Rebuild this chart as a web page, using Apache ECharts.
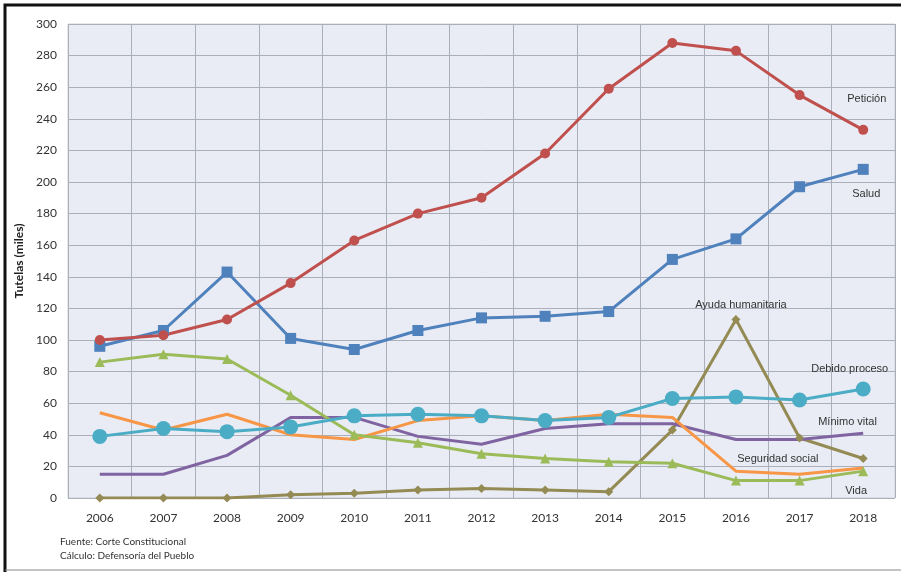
<!DOCTYPE html>
<html>
<head>
<meta charset="utf-8">
<script src="https://cdn.jsdelivr.net/npm/echarts@6/dist/echarts.min.js"></script>
<style>
  html, body { margin: 0; padding: 0; background: #fff; }
  #chart { width: 901px; height: 573px; }
</style>
</head>
<body>
<div id="chart"></div>
<script>
// años
var years = ['2006', '2007', '2008', '2009', '2010', '2011', '2012', '2013', '2014', '2015', '2016', '2017', '2018']

// tutelas por derecho (miles)
var peticion = [100, 103, 113, 136, 163, 180, 190, 218, 259, 288, 283, 255, 233]
var salud = [96, 106, 143, 101, 94, 106, 114, 115, 118, 151, 164, 197, 208]
var debidoProceso = [39, 44, 42, 45, 52, 53, 52, 49, 51, 63, 64, 62, 69]
var minimoVital = [15, 15, 27, 51, 51, 39, 34, 44, 47, 47, 37, 37, 41]
var seguridadSocial = [54, 43, 53, 40, 37, 49, 52, 49, 53, 51, 17, 15, 19]
var vida = [86, 91, 88, 65, 40, 35, 28, 25, 23, 22, 11, 11, 17]
var ayudaHumanitaria = [0, 0, 0, 2, 3, 5, 6, 5, 4, 43, 113, 38, 25]

var chart = echarts.init(document.getElementById('chart'))

// etiqueta al final de cada linea
function endLbl(dx, dy) {
  return {
    show: true,
    formatter: '{a}',
    distance: 0,
    offset: [dx, dy],
    color: '#333',
    fontSize: 11,
    fontFamily: 'Liberation Sans'
  }
}

function serie(name, data, color, symbol, size, lbl) {
  return {
    name: name,
    type: 'line',
    data: data,
    symbol: symbol,
    symbolSize: size,
    showSymbol: symbol !== 'none',
    lineStyle: { color: color, width: 3 },
    itemStyle: { color: color },
    endLabel: lbl,
    z: 3
  }
}

chart.setOption({
  animation: false,
  grid: {
    left: 68,
    right: 6,
    top: 24,
    bottom: 75,
    show: true,
    backgroundColor: '#E9ECF4',
    borderColor: '#D0D3DA',
    borderWidth: 1
  },
  xAxis: {
    type: 'category',
    data: years,
    boundaryGap: true,
    axisLine: { show: false },
    axisTick: { show: false },
    axisLabel: { color: '#333', fontSize: 12, fontFamily: 'Lato', margin: 14 },
    splitLine: { show: true, lineStyle: { color: '#ABAFBA', width: 1 } }
  },
  yAxis: {
    type: 'value',
    min: 0,
    max: 300,
    interval: 20,
    name: 'Tutelas (miles)',
    nameLocation: 'middle',
    nameGap: 38,
    nameTextStyle: { color: '#222', fontSize: 12, fontWeight: 'bold', fontFamily: 'Lato' },
    axisLine: { show: false },
    axisTick: { show: false },
    axisLabel: { color: '#333', fontSize: 12, fontFamily: 'Lato', margin: 11 },
    splitLine: { show: true, lineStyle: { color: '#ABAFBA', width: 1 } }
  },
  series: [
    serie('Ayuda humanitaria', ayudaHumanitaria, '#948A54', 'diamond', 9, endLbl(-168, -154)),
    serie('Mínimo vital', minimoVital, '#8064A2', 'none', 0, endLbl(-45, -11)),
    serie('Seguridad social', seguridadSocial, '#F79646', 'none', 0, endLbl(-126, -9)),
    serie('Vida', vida, '#9BBB59', 'triangle', 10, endLbl(-18, 20)),
    serie('Debido proceso', debidoProceso, '#4BACC6', 'circle', 15, endLbl(-52, -20)),
    serie('Salud', salud, '#4F81BD', 'rect', 11, endLbl(-11, 25)),
    serie('Petición', peticion, '#C0504D', 'circle', 10, endLbl(-16, -31))
  ],
  graphic: [
    {
      type: 'polyline',
      shape: { points: [[5, 572], [5, 5], [901, 5]] },
      style: { stroke: '#111', lineWidth: 3, fill: null }
    },
    {
      type: 'line',
      shape: { x1: 5, y1: 570, x2: 901, y2: 570 },
      style: { stroke: '#888', lineWidth: 1 }
    },
    {
      type: 'text',
      left: 60,
      top: 535,
      style: {
        text: 'Fuente: Corte Constitucional\nCálculo: Defensoría del Pueblo',
        fill: '#333',
        font: '10px Lato',
        lineHeight: 14
      }
    }
  ]
})
</script>
</body>
</html>
